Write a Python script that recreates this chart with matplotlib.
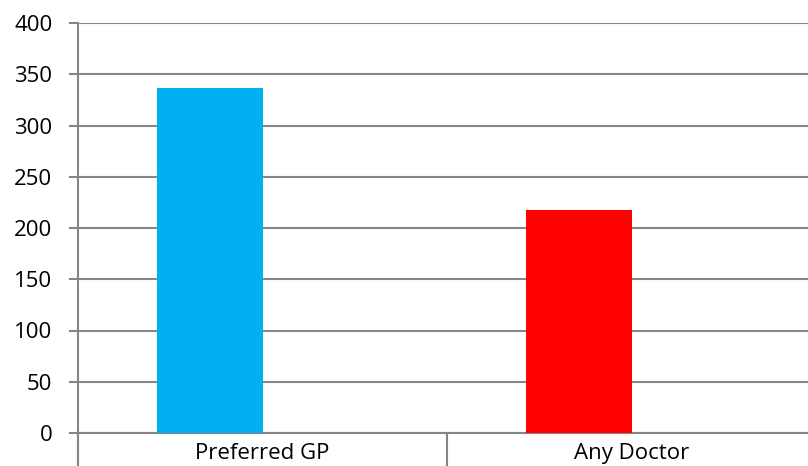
import matplotlib
matplotlib.use("Agg")
import matplotlib.pyplot as plt
from matplotlib.ticker import FixedLocator, NullFormatter, FixedFormatter

categories = ["Preferred GP", "Any Doctor"]
values = [337, 218]
bar_colors = ["#00B0F0", "#FF0000"]
y_ticks = [0, 50, 100, 150, 200, 250, 300, 350, 400]

plt.rcParams["font.family"] = ["Open Sans", "DejaVu Sans"]

W, H, DPI = 808, 466, 100
fig = plt.figure(figsize=(W / DPI, H / DPI), dpi=DPI)
left, right, top, bottom = 78, 816, 23, 433
ax = fig.add_axes([left / W, (H - bottom) / H, (right - left) / W, (bottom - top) / H])

grid_color = "#868686"
lw = 1.5
fs = 16

pos = list(range(len(categories)))
bar_w = 0.287
ax.bar([p - bar_w / 2 for p in pos], values, width=bar_w, color=bar_colors, zorder=3)

ax.set_xlim(-0.5, len(categories) - 0.5)
ax.set_ylim(0, 400)

ax.set_yticks(y_ticks)
ax.set_yticklabels([str(t) for t in y_ticks])
ax.yaxis.grid(True, color=grid_color, linewidth=lw, zorder=0)
ax.set_axisbelow(True)

# category boundaries as long outward ticks, names centred in each category
ax.xaxis.set_major_locator(FixedLocator([-0.5, 0.5, 1.5]))
ax.xaxis.set_major_formatter(NullFormatter())
ax.xaxis.set_minor_locator(FixedLocator(pos))
ax.xaxis.set_minor_formatter(FixedFormatter(categories))
ax.tick_params(axis="x", which="major", length=24, width=lw, color=grid_color, direction="out")
ax.tick_params(axis="x", which="minor", length=0, pad=7, labelsize=fs, labelcolor="#000000")
ax.tick_params(axis="y", length=6.5, width=lw, color=grid_color, direction="out", pad=12,
               labelsize=fs, labelcolor="#000000")

for s in ["top", "right"]:
    ax.spines[s].set_visible(False)
for s in ["left", "bottom"]:
    ax.spines[s].set_color(grid_color)
    ax.spines[s].set_linewidth(lw)
ax.spines["left"].set_bounds(0, 400)

# left axis line continues down alongside the boundary ticks
ax.plot([-0.5, -0.5], [0, -33 / 410 * 400], color=grid_color, linewidth=lw, clip_on=False, zorder=4)

fig.savefig("out.png", dpi=DPI)
